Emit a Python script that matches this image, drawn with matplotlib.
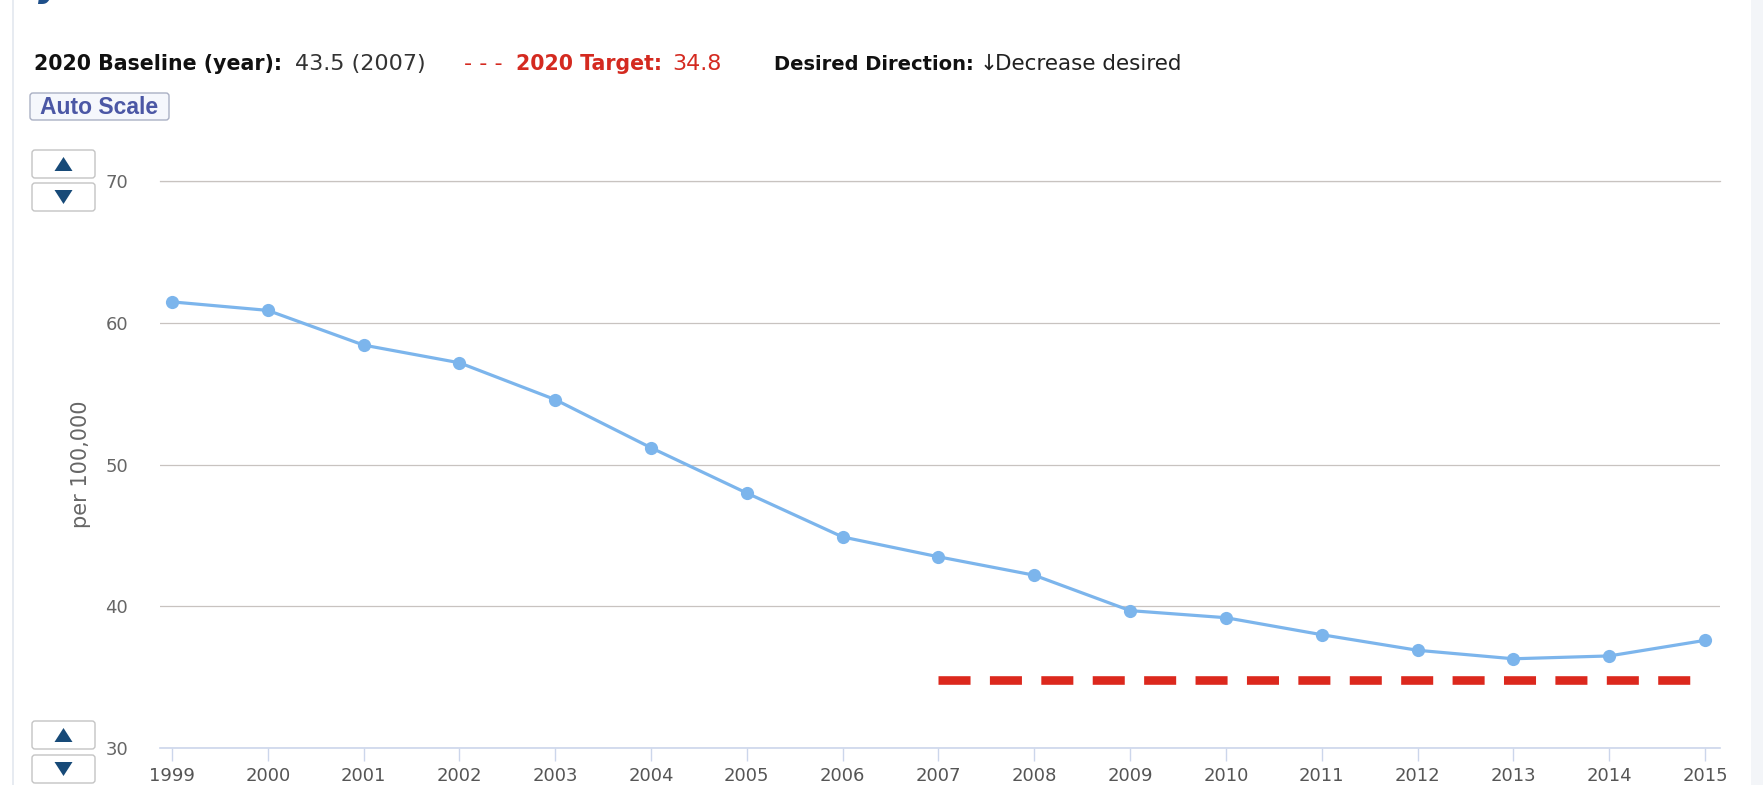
import numpy as np
import matplotlib
matplotlib.use('Agg')
import matplotlib.pyplot as plt
from matplotlib.patches import FancyBboxPatch, Polygon, Rectangle

# data
years = [1999, 2000, 2001, 2002, 2003, 2004, 2005, 2006, 2007,
         2008, 2009, 2010, 2011, 2012, 2013, 2014, 2015]
rates = [61.5, 60.9, 58.45, 57.2, 54.6, 51.2, 48.0, 44.9, 43.5,
         42.2, 39.7, 39.2, 38.0, 36.9, 36.3, 36.5, 37.6]
target_years = [2007, 2015]
target_value = 34.8
y_ticks = [30, 40, 50, 60, 70]

W, H = 1763, 785
fig = plt.figure(figsize=(W / 100, H / 100), dpi=100)
fig.patch.set_facecolor('white')

# main plot area (pixel box measured on the reference)
left, right, top, bottom = 160, 1720, 181.5, 748
ax = fig.add_axes([left / W, 1 - bottom / H, (right - left) / W, (bottom - top) / H])
ax.set_xlim(1998.875, 2015.157)
ax.set_ylim(30, 70)

ax.plot(years, rates, color='#7cb5ec', lw=2.3, marker='o', markersize=9.5,
        markeredgewidth=0, clip_on=False, zorder=4)
ax.plot(target_years, [target_value] * 2, color='#dc281d', lw=6.2,
        linestyle=(0, (3.72, 2.25)), dash_capstyle='butt', zorder=3)

ax.set_yticks(y_ticks)
ax.set_xticks(years)
ax.set_xticklabels([str(y) for y in years])
ax.grid(axis='y', color='#c8c3c0', lw=0.9)
ax.axhline(70, color='#c8c3c0', lw=0.9, clip_on=False, zorder=0.5)
ax.set_axisbelow(True)
for s in ['top', 'right', 'left']:
    ax.spines[s].set_visible(False)
ax.spines['bottom'].set_color('#ccd6eb')
ax.spines['bottom'].set_linewidth(1.2)
ax.tick_params(axis='y', length=0, pad=23, labelsize=13, labelcolor='#666666')
ax.tick_params(axis='x', length=9, width=1, color='#ccd6eb', pad=5,
               labelsize=13, labelcolor='#555555')
ax.set_ylabel('per 100,000', fontsize=15, color='#666666', labelpad=0)
ax.yaxis.set_label_coords((91 - left) / (right - left), 0.5)

# overlay in pixel coords for the header, buttons and borders
ov = fig.add_axes([0, 0, 1, 1])
ov.set_xlim(0, W)
ov.set_ylim(H, 0)
ov.axis('off')
ov.patch.set_alpha(0)

ov.add_line(plt.Line2D([13, 13], [0, H], color='#e3e8ef', lw=1.2))
ov.add_patch(Rectangle((1751, 0), 12, H, color='#f3f5f8', lw=0))

# cut-off title glyph at the very top
ov.text(38, -3, 'y', fontsize=26, color='#1e4f8a', fontweight='bold',
        style='italic', va='baseline', clip_on=False)

# header row, each piece placed where it sits on the reference
hy = 64
red = '#d42a20'
ov.text(34, hy, '2020 Baseline (year):', fontsize=14.8, fontweight='bold',
        color='#111111', va='center')
ov.text(295, hy, '43.5 (2007)', fontsize=16, color='#333333', va='center')
ov.text(464, hy, '- - -', fontsize=16, color=red, va='center')
ov.text(516, hy, '2020 Target:', fontsize=14.8, fontweight='bold', color=red, va='center')
ov.text(672, hy, '34.8', fontsize=16, color=red, va='center')
ov.text(774, hy, 'Desired Direction:', fontsize=14, fontweight='bold',
        color='#111111', va='center')
ov.text(980, hy, '\u2193', fontsize=15.5, color='#222222', va='center')
ov.text(995, hy, 'Decrease desired', fontsize=15.5, color='#222222', va='center')

# Auto Scale button
ov.add_patch(FancyBboxPatch((30, 93), 139, 27, boxstyle='round,pad=0,rounding_size=3',
                            fc='#f5f7fc', ec='#aab0c4', lw=1))
ov.text(99.5, 107, 'Auto Scale', fontsize=16.5, fontweight='bold', color='#4b57a5',
        family=['Liberation Sans Narrow', 'Liberation Sans', 'DejaVu Sans'],
        ha='center', va='center')


def arrow_button(y0, up):
    ov.add_patch(FancyBboxPatch((32, y0), 63, 28, boxstyle='round,pad=0,rounding_size=3',
                                fc='white', ec='#c4c4c4', lw=1))
    cx, cy = 63.5, y0 + 14
    if up:
        pts = [(cx - 9, cy + 7), (cx + 9, cy + 7), (cx, cy - 7)]
    else:
        pts = [(cx - 9, cy - 7), (cx + 9, cy - 7), (cx, cy + 7)]
    ov.add_patch(Polygon(pts, closed=True, fc='#174a78', ec='none'))


arrow_button(150, True)
arrow_button(183, False)
arrow_button(721, True)
arrow_button(755, False)

fig.savefig('out.png', dpi=100)
